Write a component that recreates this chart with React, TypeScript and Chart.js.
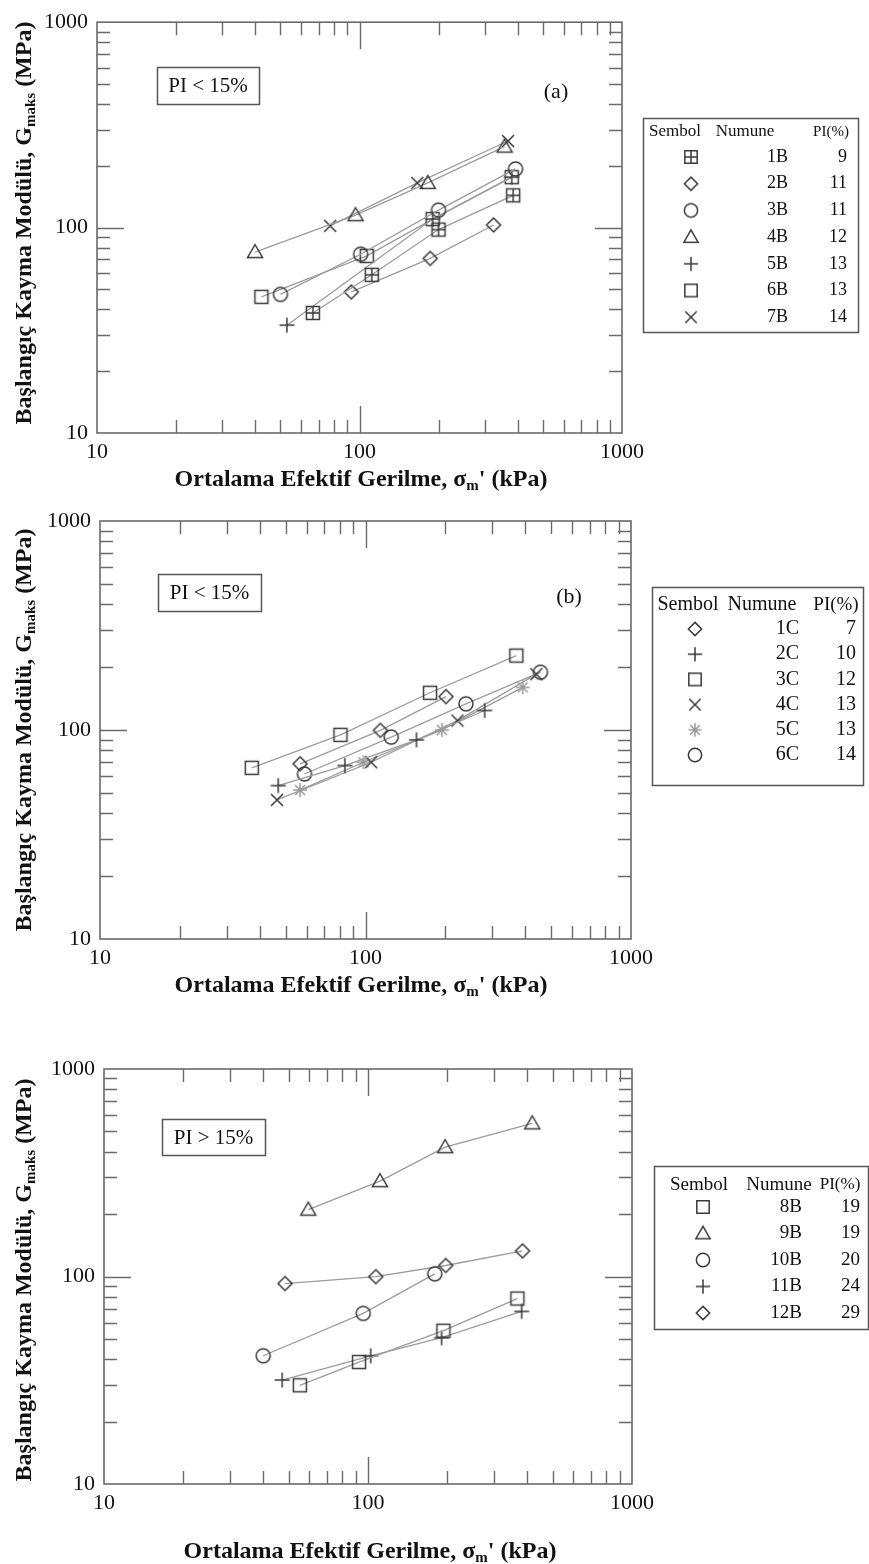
import React, { useEffect, useRef } from 'react';
import { Chart, registerables } from 'chart.js';

Chart.register(...registerables);

const FONT = "'Liberation Serif', 'Times New Roman', serif";
const AXIS_COLOR = '#6a6a6a';
const LINE_COLOR = '#9c9c9c';
const MARK_COLOR = '#3a3a3a';
const LIGHT_MARK = '#9a9a9a';

const AXIS_TICKS = [10, 100, 1000];
const MINOR_MULT = [2, 3, 4, 5, 6, 7, 8, 9];

// ---------- Panel (a): PI < 15% ----------
const A_NAMES = ['1B', '2B', '3B', '4B', '5B', '6B', '7B'];
const A_PI = ['9', '11', '11', '12', '13', '13', '14'];
const A_MARKERS = ['crossSquare', 'diamond', 'circle', 'triangle', 'plus', 'square', 'x'];
const A_1B = [[66.4, 38.4], [111.4, 58.9], [200, 97.8], [385, 143.6]];
const A_2B = [[93.1, 48.6], [186, 70.8], [324, 103]];
const A_3B = [[50, 47.3], [101, 74.2], [200, 121.6], [393, 193]];
const A_4B = [[40, 76], [96.6, 115], [182, 165], [357, 248]];
const A_5B = [[52.9, 33.5], [190, 110], [380, 176]];
const A_6B = [[42.3, 46], [106.6, 72.8], [190, 110], [380, 176]];
const A_7B = [[77.3, 102], [166, 165], [368, 264]];
const A_DATA = [A_1B, A_2B, A_3B, A_4B, A_5B, A_6B, A_7B];

// ---------- Panel (b): PI < 15% ----------
const B_NAMES = ['1C', '2C', '3C', '4C', '5C', '6C'];
const B_PI = ['7', '10', '12', '13', '13', '14'];
const B_MARKERS = ['diamond', 'plus', 'square', 'x', 'star', 'circle'];
const B_1C = [[56.7, 68.9], [113.8, 99.6], [201, 144.5]];
const B_2C = [[46.9, 54.2], [83.6, 67.6], [155.6, 89.7], [281, 124]];
const B_3C = [[37.3, 65.9], [80.5, 94.8], [175, 150.7], [370, 227]];
const B_4C = [[46.4, 46.3], [105, 70.1], [222, 110.9], [440, 185]];
const B_5C = [[56.7, 51.6], [98.2, 70.1], [194, 100.2], [391, 160]];
const B_6C = [[58.9, 61.6], [125, 92.5], [239, 133.4], [456, 189]];
const B_DATA = [B_1C, B_2C, B_3C, B_4C, B_5C, B_6C];

// ---------- Panel (c): PI > 15% ----------
const C_NAMES = ['8B', '9B', '10B', '11B', '12B'];
const C_PI = ['19', '19', '20', '24', '29'];
const C_MARKERS = ['square', 'triangle', 'circle', 'plus', 'diamond'];
const C_8B = [[55.2, 29.9], [92.5, 38.7], [193, 54.8], [368, 78.3]];
const C_9B = [[59.4, 210], [111, 288], [196, 420], [419, 547]];
const C_10B = [[40.1, 41.5], [95.9, 66.4], [179, 103]];
const C_11B = [[47.3, 31.7], [102.4, 41.5], [190, 50.7], [382, 67.9]];
const C_12B = [[48.5, 92.5], [107, 99.8], [197, 113], [385, 132.8]];
const C_DATA = [C_8B, C_9B, C_10B, C_11B, C_12B];

const X_TITLE = [{ t: 'Ortalama Efektif Gerilme, σ' }, { t: 'm', sub: true }, { t: "' (kPa)" }];
const Y_TITLE = [{ t: 'Başlangıç Kayma Modülü, G' }, { t: 'maks', sub: true }, { t: ' (MPa)' }];

type Panel = {
  names: string[]; pi: string[]; markers: string[]; data: number[][][];
  canvasTop: number; canvasH: number;
  plot: { left: number; top: number; right: number; bottom: number };
  xTitle: { x: number; y: number }; yTitle: { x: number; y: number };
  box: { l: number; t: number; r: number; b: number; text: string };
  label?: { text: string; x: number; y: number };
  legend: {
    box: [number, number, number, number];
    headerY: number; header: { text: string; x: number; size: number }[];
    rowY0: number; rowDy: number; fontSize: number;
    symX: number; nameRight: number; piRight: number;
  };
};

const PANELS: Panel[] = [
  {
    names: A_NAMES, pi: A_PI, markers: A_MARKERS, data: A_DATA,
    canvasTop: 0, canvasH: 495,
    plot: { left: 97, top: 15, right: 622, bottom: 433 },
    xTitle: { x: 361, y: 478 }, yTitle: { x: 23, y: 223 },
    box: { l: 157, t: 67, r: 259, b: 104, text: 'PI < 15%' },
    label: { text: '(a)', x: 556, y: 92 },
    legend: {
      box: [643, 118, 858, 332], headerY: 132,
      header: [{ text: 'Sembol', x: 675, size: 17 }, { text: 'Numune', x: 745, size: 17 }, { text: 'PI(%)', x: 831, size: 15 }],
      rowY0: 157, rowDy: 26.7, fontSize: 18, symX: 691, nameRight: 788, piRight: 847,
    },
  },
  {
    names: B_NAMES, pi: B_PI, markers: B_MARKERS, data: B_DATA,
    canvasTop: 495, canvasH: 510,
    plot: { left: 100, top: 521, right: 631, bottom: 939 },
    xTitle: { x: 361, y: 984 }, yTitle: { x: 23, y: 730 },
    box: { l: 158, t: 574, r: 261, b: 611, text: 'PI < 15%' },
    label: { text: '(b)', x: 569, y: 597 },
    legend: {
      box: [652, 587, 863, 785], headerY: 605,
      header: [{ text: 'Sembol', x: 688, size: 20 }, { text: 'Numune', x: 762, size: 20 }, { text: 'PI(%)', x: 836, size: 19 }],
      rowY0: 629, rowDy: 25.2, fontSize: 20, symX: 695, nameRight: 799, piRight: 856,
    },
  },
  {
    names: C_NAMES, pi: C_PI, markers: C_MARKERS, data: C_DATA,
    canvasTop: 1005, canvasH: 559,
    plot: { left: 104, top: 1069, right: 632, bottom: 1484 },
    xTitle: { x: 370, y: 1550 }, yTitle: { x: 23, y: 1280 },
    box: { l: 162, t: 1119, r: 265, b: 1155, text: 'PI > 15%' },
    legend: {
      box: [654, 1166, 868, 1329], headerY: 1185,
      header: [{ text: 'Sembol', x: 699, size: 19 }, { text: 'Numune', x: 779, size: 19 }, { text: 'PI(%)', x: 840, size: 17 }],
      rowY0: 1207, rowDy: 26.5, fontSize: 19, symX: 703, nameRight: 802, piRight: 860,
    },
  },
];

function makeMarker(kind: string, color: string, scale = 1): HTMLCanvasElement {
  const s = 22;
  const c = document.createElement('canvas');
  c.width = s; c.height = s;
  const g = c.getContext('2d')!;
  g.strokeStyle = color; g.lineWidth = 1.5;
  const m = s / 2;
  const k = scale;
  g.beginPath();
  switch (kind) {
    case 'square':
      g.rect(m - 6.5 * k, m - 6.5 * k, 13 * k, 13 * k); break;
    case 'crossSquare':
      g.rect(m - 6.5 * k, m - 6.5 * k, 13 * k, 13 * k);
      g.moveTo(m, m - 6.5 * k); g.lineTo(m, m + 6.5 * k);
      g.moveTo(m - 6.5 * k, m); g.lineTo(m + 6.5 * k, m); break;
    case 'circle':
      g.arc(m, m, 7 * k, 0, Math.PI * 2); break;
    case 'diamond':
      g.moveTo(m, m - 7 * k); g.lineTo(m + 7 * k, m); g.lineTo(m, m + 7 * k); g.lineTo(m - 7 * k, m); g.closePath(); break;
    case 'triangle':
      g.moveTo(m, m - 7.5 * k); g.lineTo(m + 7.5 * k, m + 5.5 * k); g.lineTo(m - 7.5 * k, m + 5.5 * k); g.closePath(); break;
    case 'plus':
      g.moveTo(m - 7.5 * k, m); g.lineTo(m + 7.5 * k, m); g.moveTo(m, m - 7.5 * k); g.lineTo(m, m + 7.5 * k); break;
    case 'x':
      g.moveTo(m - 6 * k, m - 6 * k); g.lineTo(m + 6 * k, m + 6 * k); g.moveTo(m + 6 * k, m - 6 * k); g.lineTo(m - 6 * k, m + 6 * k); break;
    case 'star':
      g.moveTo(m - 7 * k, m); g.lineTo(m + 7 * k, m); g.moveTo(m, m - 7 * k); g.lineTo(m, m + 7 * k);
      g.moveTo(m - 5 * k, m - 5 * k); g.lineTo(m + 5 * k, m + 5 * k); g.moveTo(m + 5 * k, m - 5 * k); g.lineTo(m - 5 * k, m + 5 * k); break;
  }
  g.stroke();
  return c;
}

function drawRich(ctx: CanvasRenderingContext2D, parts: { t: string; sub?: boolean }[], size: number) {
  const main = `bold ${size}px ${FONT}`;
  const sub = `bold ${Math.round(size * 0.64)}px ${FONT}`;
  let total = 0;
  parts.forEach((p) => { ctx.font = p.sub ? sub : main; total += ctx.measureText(p.t).width; });
  let x = -total / 2;
  ctx.textAlign = 'left';
  ctx.textBaseline = 'alphabetic';
  const base = size * 0.33;
  parts.forEach((p) => {
    ctx.font = p.sub ? sub : main;
    ctx.fillText(p.t, x, p.sub ? base + size * 0.16 : base);
    x += ctx.measureText(p.t).width;
  });
}

function buildConfig(p: Panel, markerImgs: HTMLCanvasElement[], legendImgs: HTMLCanvasElement[]) {
  const off = p.canvasTop;
  const W = 869;
  const decoPlugin = {
    id: 'deco',
    afterDraw(chart: any) {
      const { ctx, chartArea, scales } = chart;
      const { left, top, right, bottom } = chartArea;
      const xs = scales.x, ys = scales.y;
      ctx.save();
      ctx.strokeStyle = AXIS_COLOR; ctx.lineWidth = 1.6;
      ctx.strokeRect(left, top, right - left, bottom - top);
      ctx.lineWidth = 1.4;
      ctx.beginPath();
      [10, 100].forEach((d) => {
        [1, ...MINOR_MULT].forEach((mult) => {
          const v = d * mult;
          if (v <= 10) return;
          const len = mult === 1 ? 27 : 13;
          const px = Math.round(xs.getPixelForValue(v)) + 0.5;
          ctx.moveTo(px, bottom); ctx.lineTo(px, bottom - len);
          ctx.moveTo(px, top); ctx.lineTo(px, top + len);
          const py = Math.round(ys.getPixelForValue(v)) + 0.5;
          ctx.moveTo(left, py); ctx.lineTo(left + len, py);
          ctx.moveTo(right, py); ctx.lineTo(right - len, py);
        });
      });
      ctx.stroke();
      ctx.fillStyle = '#111';
      ctx.save();
      ctx.translate(p.xTitle.x, p.xTitle.y - off);
      drawRich(ctx, X_TITLE, 24);
      ctx.restore();
      ctx.save();
      ctx.translate(p.yTitle.x, p.yTitle.y - off);
      ctx.rotate(-Math.PI / 2);
      drawRich(ctx, Y_TITLE, 24);
      ctx.restore();
      ctx.strokeStyle = '#555'; ctx.lineWidth = 1.5;
      ctx.strokeRect(p.box.l + 0.5, p.box.t - off + 0.5, p.box.r - p.box.l, p.box.b - p.box.t);
      ctx.font = `21px ${FONT}`; ctx.textAlign = 'center'; ctx.textBaseline = 'middle';
      ctx.fillText(p.box.text, (p.box.l + p.box.r) / 2, (p.box.t + p.box.b) / 2 - off + 1);
      if (p.label) {
        ctx.font = `22px ${FONT}`;
        ctx.fillText(p.label.text, p.label.x, p.label.y - off);
      }
      const L = p.legend;
      ctx.strokeRect(L.box[0] + 0.5, L.box[1] - off + 0.5, L.box[2] - L.box[0], L.box[3] - L.box[1]);
      ctx.textBaseline = 'middle';
      L.header.forEach((h) => {
        ctx.font = `${h.size}px ${FONT}`; ctx.textAlign = 'center';
        ctx.fillText(h.text, h.x, L.headerY - off);
      });
      p.names.forEach((name, i) => {
        const y = L.rowY0 + i * L.rowDy - off;
        const img = legendImgs[i];
        ctx.drawImage(img, L.symX - img.width / 2, y - img.height / 2);
        ctx.font = `${L.fontSize}px ${FONT}`; ctx.textAlign = 'right';
        ctx.fillText(name, L.nameRight, y);
        ctx.fillText(p.pi[i], L.piRight, y);
      });
      ctx.restore();
    },
  };

  return {
    type: 'scatter' as const,
    data: {
      datasets: p.data.map((series, i) => ({
        label: p.names[i],
        data: series.map(([x, y]) => ({ x, y })),
        showLine: true,
        borderColor: LINE_COLOR,
        borderWidth: 1.3,
        backgroundColor: 'rgba(0,0,0,0)',
        pointStyle: markerImgs[i],
        pointRadius: 7,
        pointHoverRadius: 7,
      })),
    },
    options: {
      animation: false as const,
      responsive: false,
      devicePixelRatio: 1,
      events: [],
      layout: { padding: { left: 0, top: p.plot.top - off, right: W - p.plot.right, bottom: 0 } },
      plugins: { legend: { display: false }, tooltip: { enabled: false }, title: { display: false } },
      scales: {
        x: {
          type: 'logarithmic' as const, min: 10, max: 1000,
          afterBuildTicks: (s: any) => { s.ticks = AXIS_TICKS.map((v) => ({ value: v })); },
          afterFit: (s: any) => { s.height = p.canvasH - (p.plot.bottom - off); },
          ticks: { callback: (v: any) => String(v), font: { family: FONT, size: 22 }, color: '#111', padding: 6, maxRotation: 0, autoSkip: false },
          grid: { display: false, drawTicks: false },
          border: { display: false },
        },
        y: {
          type: 'logarithmic' as const, min: 10, max: 1000,
          afterBuildTicks: (s: any) => { s.ticks = AXIS_TICKS.map((v) => ({ value: v })); },
          afterFit: (s: any) => { s.width = p.plot.left; },
          ticks: { callback: (v: any) => String(v), font: { family: FONT, size: 22 }, color: '#111', padding: 9, autoSkip: false },
          grid: { display: false, drawTicks: false },
          border: { display: false },
        },
      },
    },
    plugins: [decoPlugin],
  };
}

export default function App() {
  const refs = useRef<(HTMLCanvasElement | null)[]>([]);
  useEffect(() => {
    const charts = PANELS.map((p, idx) => {
      const markerImgs = p.markers.map((m) => makeMarker(m, m === 'star' ? LIGHT_MARK : MARK_COLOR));
      const legendImgs = p.markers.map((m) => makeMarker(m, m === 'star' ? LIGHT_MARK : MARK_COLOR, 0.95));
      return new Chart(refs.current[idx] as HTMLCanvasElement, buildConfig(p, markerImgs, legendImgs) as any);
    });
    return () => charts.forEach((c) => c.destroy());
  }, []);
  return (
    <div style={{ position: 'absolute', left: 0, top: 0, width: 869, height: 1564, background: '#fff' }}>
      {PANELS.map((p, i) => (
        <canvas
          key={i}
          ref={(el) => { refs.current[i] = el; }}
          width={869}
          height={p.canvasH}
          style={{ position: 'absolute', left: 0, top: p.canvasTop, width: 869, height: p.canvasH }}
        />
      ))}
    </div>
  );
}
